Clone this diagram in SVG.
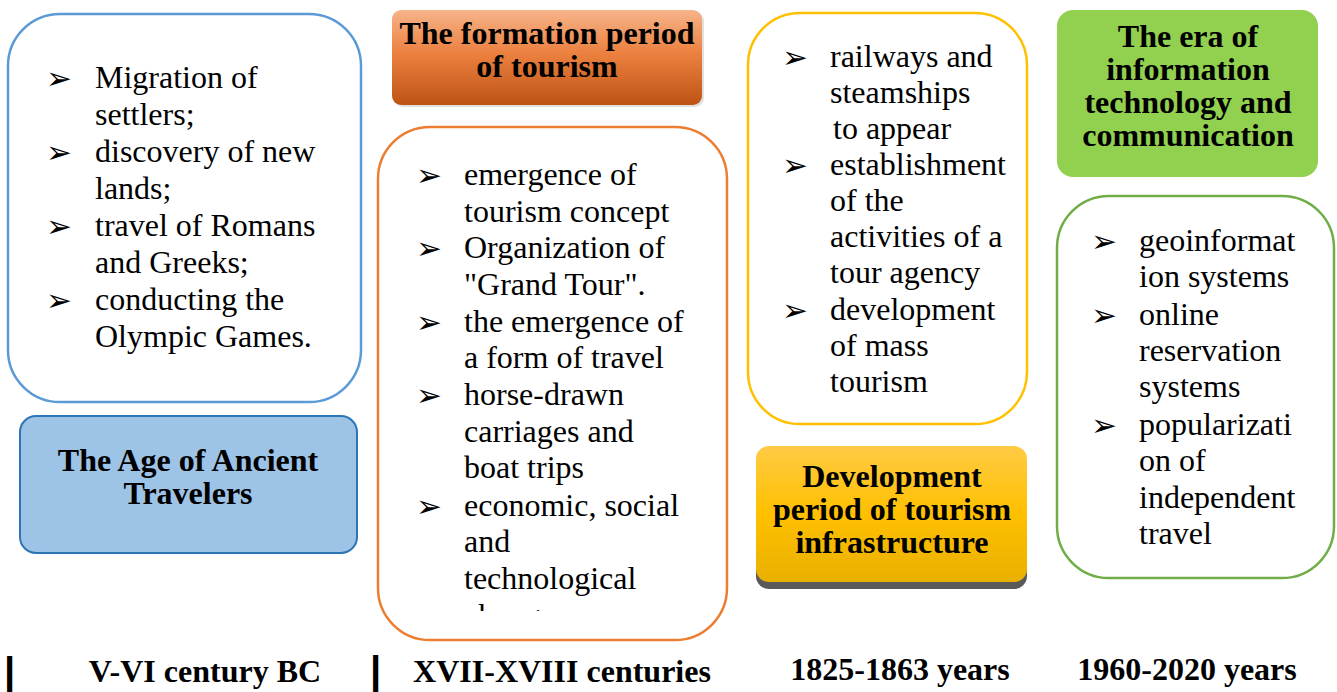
<svg xmlns="http://www.w3.org/2000/svg" width="1337" height="692" viewBox="0 0 1337 692">
  <style>
    .body { font-family: "Liberation Serif", "Times New Roman", serif; font-size: 32px; fill: #000; }
    .head { font-family: "Liberation Serif", "Times New Roman", serif; font-size: 32px; font-weight: bold; fill: #000; text-anchor: middle; }
    .bul { font-family: "DejaVu Sans", sans-serif; font-size: 31px; fill: #000; }
    .bar { font-family: "Liberation Sans", Arial, sans-serif; font-size: 40px; font-weight: bold; fill: #000; }
    .frame { fill: #fff; stroke-width: 2.5; }
  </style>
  <defs>
    <linearGradient id="gOrange" x1="0" y1="0" x2="0" y2="1">
      <stop offset="0" stop-color="#F6B48A"/>
      <stop offset="0.45" stop-color="#EC8140"/>
      <stop offset="1" stop-color="#BE5414"/>
    </linearGradient>
    <linearGradient id="gYellow" x1="0" y1="0" x2="0" y2="1">
      <stop offset="0" stop-color="#FFCB45"/>
      <stop offset="0.5" stop-color="#FFC000"/>
      <stop offset="1" stop-color="#E9B000"/>
    </linearGradient>
    <clipPath id="cutOrange">
      <rect x="378" y="127" width="350" height="484"/>
    </clipPath>
  </defs>

  <!-- Column 1: ancient travellers -->
  <g id="ancient-list">
    <rect class="frame" x="8" y="14" width="353" height="388" rx="52" stroke="#5B9BD5"/>
    <text class="bul" x="46" y="89">➢</text>
    <text class="body" x="95" y="88">Migration of</text>
    <text class="body" x="95" y="125">settlers;</text>
    <text class="bul" x="46" y="163">➢</text>
    <text class="body" x="95" y="162">discovery of new</text>
    <text class="body" x="95" y="199">lands;</text>
    <text class="bul" x="46" y="237">➢</text>
    <text class="body" x="95" y="236">travel of Romans</text>
    <text class="body" x="95" y="273">and Greeks;</text>
    <text class="bul" x="46" y="311">➢</text>
    <text class="body" x="95" y="310">conducting the</text>
    <text class="body" x="95" y="347">Olympic Games.</text>
  </g>
  <g id="ancient-title">
    <rect x="20" y="416" width="337" height="137" rx="16" fill="#9DC3E6" stroke="#2E75B6" stroke-width="2"/>
    <text class="head" x="188" y="471">The Age of Ancient</text>
    <text class="head" x="188" y="504">Travelers</text>
  </g>

  <!-- Column 2: formation period -->
  <g id="formation-title">
    <rect x="394" y="12" width="310" height="95" rx="9" fill="#A9A9A9" opacity="0.35"/>
    <rect x="392" y="10" width="310" height="95" rx="9" fill="url(#gOrange)"/>
    <text class="head" x="547" y="44">The formation period</text>
    <text class="head" x="547" y="77">of tourism</text>
  </g>
  <g id="formation-list">
    <rect class="frame" x="378" y="127" width="349" height="513" rx="52" stroke="#ED7D31"/>
    <g clip-path="url(#cutOrange)">
      <text class="bul" x="416" y="186">➢</text>
      <text class="body" x="464" y="185">emergence of</text>
      <text class="body" x="464" y="222">tourism concept</text>
      <text class="bul" x="416" y="259">➢</text>
      <text class="body" x="464" y="258">Organization of</text>
      <text class="body" x="464" y="295">"Grand Tour".</text>
      <text class="bul" x="416" y="333">➢</text>
      <text class="body" x="464" y="332">the emergence of</text>
      <text class="body" x="464" y="368">a form of travel</text>
      <text class="bul" x="416" y="406">➢</text>
      <text class="body" x="464" y="405">horse-drawn</text>
      <text class="body" x="464" y="442">carriages and</text>
      <text class="body" x="464" y="478">boat trips</text>
      <text class="bul" x="416" y="517">➢</text>
      <text class="body" x="464" y="516">economic, social</text>
      <text class="body" x="464" y="552">and</text>
      <text class="body" x="464" y="589">technological</text>
      <text class="body" x="464" y="626">changes</text>
    </g>
  </g>

  <!-- Column 3: infrastructure -->
  <g id="infrastructure-list">
    <rect class="frame" x="748" y="13" width="279" height="411" rx="52" stroke="#FFC000"/>
    <text class="bul" x="782" y="68">➢</text>
    <text class="body" x="830" y="67">railways and</text>
    <text class="body" x="830" y="103">steamships</text>
    <text class="body" x="833" y="139">to appear</text>
    <text class="bul" x="782" y="176">➢</text>
    <text class="body" x="830" y="175">establishment</text>
    <text class="body" x="830" y="211">of the</text>
    <text class="body" x="830" y="247">activities of a</text>
    <text class="body" x="830" y="283">tour agency</text>
    <text class="bul" x="782" y="321">➢</text>
    <text class="body" x="830" y="320">development</text>
    <text class="body" x="830" y="356">of mass</text>
    <text class="body" x="830" y="392">tourism</text>
  </g>
  <g id="infrastructure-title">
    <rect x="756" y="451" width="271" height="138" rx="13" fill="#595959"/>
    <rect x="756" y="446" width="271" height="136" rx="13" fill="url(#gYellow)"/>
    <text class="head" x="892" y="487">Development</text>
    <text class="head" x="892" y="520">period of tourism</text>
    <text class="head" x="892" y="553">infrastructure</text>
  </g>

  <!-- Column 4: information technology -->
  <g id="it-title">
    <rect x="1057" y="10" width="261" height="167" rx="16" fill="#92D050"/>
    <text class="head" x="1188" y="47">The era of</text>
    <text class="head" x="1188" y="80">information</text>
    <text class="head" x="1188" y="113">technology and</text>
    <text class="head" x="1188" y="146">communication</text>
  </g>
  <g id="it-list">
    <rect class="frame" x="1057" y="196" width="277" height="382" rx="52" stroke="#70AD47"/>
    <text class="bul" x="1091" y="252">➢</text>
    <text class="body" x="1139" y="251">geoinformat</text>
    <text class="body" x="1139" y="287">ion systems</text>
    <text class="bul" x="1091" y="326">➢</text>
    <text class="body" x="1139" y="325">online</text>
    <text class="body" x="1139" y="361">reservation</text>
    <text class="body" x="1139" y="397">systems</text>
    <text class="bul" x="1091" y="436">➢</text>
    <text class="body" x="1139" y="435">popularizati</text>
    <text class="body" x="1139" y="471">on of</text>
    <text class="body" x="1139" y="508">independent</text>
    <text class="body" x="1139" y="544">travel</text>
  </g>

  <!-- Timeline labels -->
  <g id="timeline">
    <text class="bar" x="4" y="686">|</text>
    <text class="head" x="205" y="682">V-VI century BC</text>
    <text class="bar" x="370" y="685">|</text>
    <text class="head" x="562" y="682">XVII-XVIII centuries</text>
    <text class="head" x="900" y="680">1825-1863 years</text>
    <text class="head" x="1187" y="680">1960-2020 years</text>
  </g>
</svg>
